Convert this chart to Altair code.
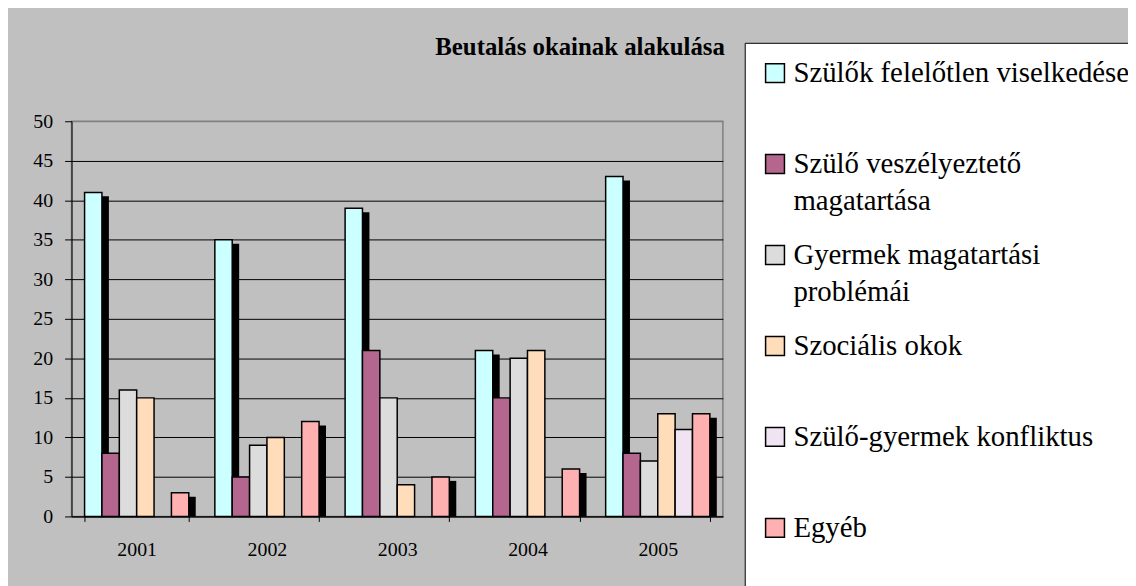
import json
import altair as alt
import pandas as pd

# ---- data ----
years = ["2001", "2002", "2003", "2004", "2005"]
series = [
    "Szülők felelőtlen viselkedése",
    "Szülő veszélyeztető magatartása",
    "Gyermek magatartási problémái",
    "Szociális okok",
    "Szülő-gyermek konfliktus",
    "Egyéb",
]
legend_labels = [
    "Szülők felelőtlen viselkedése",
    "Szülő veszélyeztető|magatartása",
    "Gyermek magatartási|problémái",
    "Szociális okok",
    "Szülő-gyermek konfliktus",
    "Egyéb",
]
v_szulok = [41, 35, 39, 21, 43]
v_veszely = [8, 5, 21, 15, 8]
v_gyermek = [16, 9, 15, 20, 7]
v_szocialis = [15, 10, 4, 21, 13]
v_konflikt = [0, 0, 0, 0, 11]
v_egyeb = [3, 12, 5, 6, 13]
y_ticks = [0, 5, 10, 15, 20, 25, 30, 35, 40, 45, 50]
shadowed = ["Szülők felelőtlen viselkedése", "Egyéb"]

colors = ["#CCFFFF", "#B5668F", "#DCDCDC", "#FFDDBB", "#F0E4F2", "#FFB0B0"]

all_values = [v_szulok, v_veszely, v_gyermek, v_szocialis, v_konflikt, v_egyeb]
rows = []
for s, vals in zip(series, all_values):
    for yr, v in zip(years, vals):
        rows.append({"year": yr, "series": s, "value": v})
df = pd.DataFrame(rows)

FONT = "Liberation Serif"
PLOT_W, PLOT_H = 656, 398
BAND = PLOT_W / 5 * 0.8  # width of one year group

x_enc = alt.X(
    "year:N",
    sort=years,
    scale=alt.Scale(paddingInner=0.2, paddingOuter=0.1),
    axis=alt.Axis(
        title=None, labelAngle=0, tickBand="extent", tickSize=5,
        labelPadding=18, grid=False,
    ),
)
xo_bars = alt.XOffset(
    "series:N", sort=series,
    scale=alt.Scale(domain=series, paddingInner=0, paddingOuter=0),
)
xo_shadow = alt.XOffset(
    "series:N", sort=series,
    scale=alt.Scale(domain=series, paddingInner=0, paddingOuter=0,
                    range=[7, BAND + 7]),
)
y_enc = alt.Y(
    "value:Q",
    scale=alt.Scale(domain=[0, 50], nice=False),
    axis=alt.Axis(
        title=None, values=y_ticks, tickSize=7, labelPadding=12, grid=True,
        gridColor={"condition": {"test": "datum.value === 50", "value": "#808080"},
                   "value": "black"},
    ),
)

label_expr = "split({}[indexof({}, datum.label)], '|')".format(
    json.dumps(legend_labels, ensure_ascii=False), json.dumps(series, ensure_ascii=False)
)

legend = alt.Legend(
    orient="none", legendX=678, legendY=-79,
    title=" ", titleOrient="bottom", titlePadding=40, titleFontSize=10,
    fillColor="white", strokeColor="black", padding=16,
    symbolType="square", symbolSize=361, symbolStrokeColor="black",
    symbolStrokeWidth=1.5, symbolOpacity=1,
    labelFont=FONT, labelFontSize=29, labelColor="black", labelLimit=0,
    labelOffset=4, rowPadding=24.6, gridAlign="all", labelExpr=label_expr,
)

shadow = (
    alt.Chart(df)
    .transform_filter(alt.FieldOneOfPredicate(field="series", oneOf=shadowed))
    .mark_bar(color="black", yOffset=4, clip=True)
    .encode(x=x_enc, xOffset=xo_shadow, y=y_enc)
)
bars = (
    alt.Chart(df)
    .transform_filter("datum.value > 0")
    .mark_bar(stroke="black", strokeWidth=1.5)
    .encode(
        x=x_enc, xOffset=xo_bars, y=y_enc,
        color=alt.Color("series:N", sort=series,
                        scale=alt.Scale(domain=series, range=colors), legend=legend),
    )
)
chart = (
    alt.layer(shadow, bars)
    .resolve_scale(xOffset="independent")
    .properties(
        width=PLOT_W,
        height=PLOT_H,
        autosize=alt.AutoSizeParams(type="none"),
        padding={"left": 64, "top": 112, "right": 1128 - 64 - PLOT_W, "bottom": 68},
        title=alt.Title(
            "Beutalás okainak alakulása", anchor="end", frame="group", font=FONT,
            fontSize=25, fontWeight="bold", color="black", baseline="alphabetic",
            offset=-38, dx=2,
        ),
        view=alt.ViewBackground(stroke="#808080", strokeWidth=1.5),
    )
    .configure(background="#C0C0C0", style={"guide-label": {"lineHeight": 37}})
    .configure_axis(
        labelFont=FONT, labelFontSize=20, labelColor="black",
        domainColor="black", tickColor="black", domainWidth=1, tickWidth=1, gridWidth=1,
    )
)
chart.save("out.html", embed_options={"renderer": "svg", "actions": False})
